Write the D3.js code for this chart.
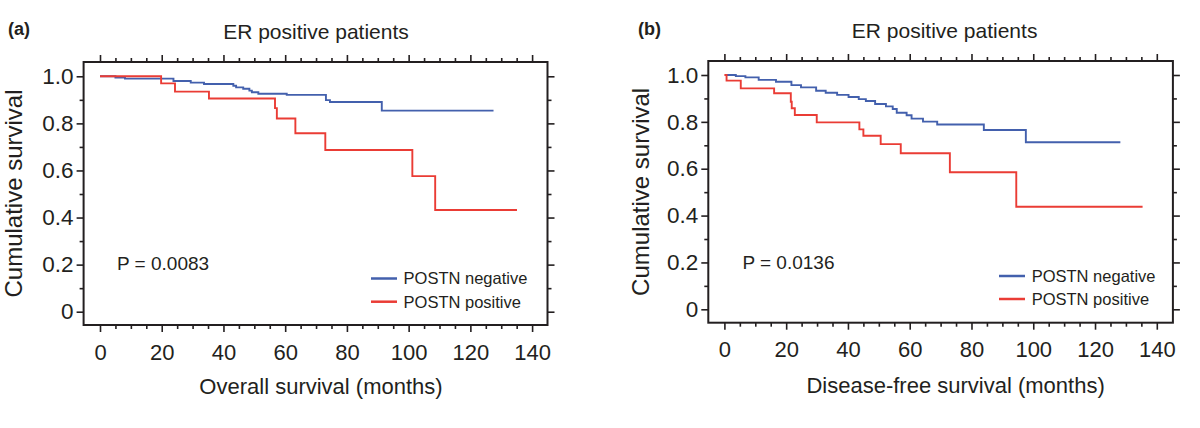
<!DOCTYPE html>
<html><head><meta charset="utf-8">
<script src="https://cdn.jsdelivr.net/npm/d3@7"></script>
<style>
html,body{margin:0;padding:0;background:#fff;}
svg{display:block;font-family:"Liberation Sans",Arial,Helvetica,sans-serif;}
</style></head>
<body>
<svg id="chart" width="1200" height="428"></svg>
<script>
// ---------- data ----------
const panelLabels = ["(a)", "(b)"];
const panelTitles = ["ER positive patients", "ER positive patients"];
const xTitles = ["Overall survival (months)", "Disease-free survival (months)"];
const yTitle = "Cumulative survival";
const pValues = ["P = 0.0083", "P = 0.0136"];
const seriesNames = ["POSTN negative", "POSTN positive"];
const xTicks = [0, 20, 40, 60, 80, 100, 120, 140];
const yTicks = [0, 0.2, 0.4, 0.6, 0.8, 1.0];

// Panel (a): overall survival, Kaplan–Meier steps (time in months, survival)
const aNegTime = [0, 5, 8.1, 23.8, 29.4, 33.7, 43.2, 44.1, 46.4, 48.4, 49.2, 51.3, 60.5, 73.2, 74.5, 91.3, 127.5];
const aNegSurv = [1.0, 0.995, 0.99, 0.98, 0.973, 0.967, 0.96, 0.953, 0.947, 0.939, 0.932, 0.926, 0.921, 0.899, 0.891, 0.854, 0.854];
const aPosTime = [0, 19.8, 24.3, 35.3, 56.7, 57.3, 63.3, 73, 101.2, 108.6, 135.1];
const aPosSurv = [1.0, 0.970, 0.935, 0.906, 0.865, 0.821, 0.758, 0.687, 0.576, 0.432, 0.432];

// Panel (b): disease-free survival
const bNegTime = [0.5, 3.7, 6.8, 11.1, 16.7, 21.7, 24.8, 29.7, 32.8, 36.5, 40.2, 43.5, 45.8, 48.8, 52.3, 54.5, 55.8, 59, 60.6, 64.3, 68.9, 84, 97.6, 128.2];
const bNegSurv = [1.0, 0.995, 0.99, 0.979, 0.971, 0.957, 0.947, 0.933, 0.924, 0.915, 0.906, 0.897, 0.889, 0.876, 0.866, 0.855, 0.839, 0.828, 0.814, 0.801, 0.789, 0.765, 0.713, 0.713];
const bPosTime = [0, 0.7, 5.3, 16.1, 21.5, 21.8, 22.8, 29.9, 43.7, 45, 50.6, 57.1, 73, 94.5, 135.4];
const bPosSurv = [1.0, 0.976, 0.943, 0.922, 0.886, 0.858, 0.829, 0.798, 0.768, 0.741, 0.705, 0.666, 0.585, 0.438, 0.438];

const colors = ["#4360ad", "#ea3c35"];

// ---------- layout ----------
const panels = [
  {frame:{l:83.6, r:547.5, t:62, b:325}, xr:[100, 532.1], yr:[311.7, 76.3],
   label:{x:8, y:35}, title:{x:316, y:39}, xt:{x:321, y:394}, yt:{x:22},
   p:{x:117, y:270}, leg:{x1:371, x2:397, tx:403.6, y:[278.5, 301.7]},
   neg:[aNegTime, aNegSurv], pos:[aPosTime, aPosSurv]},
  {frame:{l:708.3, r:1172.9, t:61, b:322.7}, xr:[724.4, 1156.8], yr:[309.3, 75],
   label:{x:638, y:35}, title:{x:944.6, y:38}, xt:{x:955.6, y:392.7}, yt:{x:649},
   p:{x:742.4, y:269.3}, leg:{x1:999, x2:1025, tx:1031.7, y:[276, 299]},
   neg:[bNegTime, bNegSurv], pos:[bPosTime, bPosSurv]}
];

const svg = d3.select("#chart");
const ink = "#231f20";

panels.forEach((P, i) => {
  const g = svg.append("g");
  const x = d3.scaleLinear().domain([0, 140]).range(P.xr);
  const y = d3.scaleLinear().domain([0, 1]).range(P.yr);
  const f = P.frame;

  // curves
  const line = d3.line().x(d => x(d[0])).y(d => y(d[1])).curve(d3.curveStepAfter);
  [P.neg, P.pos].forEach((s, k) => {
    const pts = s[0].map((t, j) => [t, s[1][j]]);
    g.append("path").attr("d", line(pts)).attr("fill", "none")
      .attr("stroke", colors[k]).attr("stroke-width", 1.9);
  });

  // frame
  g.append("rect").attr("x", f.l).attr("y", f.t).attr("width", f.r - f.l).attr("height", f.b - f.t)
    .attr("fill", "none").attr("stroke", ink).attr("stroke-width", 2);

  const minorX = d3.range(0, 141, 5).filter(v => v % 20 !== 0);
  const minorY = [0.1, 0.3, 0.5, 0.7, 0.9];
  const style = sel => { sel.select(".domain").remove(); sel.selectAll("line").attr("stroke", ink).attr("stroke-width", 1.6); };

  // bottom
  const bx = g.append("g").attr("transform", `translate(0,${f.b})`)
    .call(d3.axisBottom(x).tickValues(xTicks).tickSize(7).tickPadding(12).tickFormat(d3.format("d")));
  style(bx);
  bx.selectAll("text").attr("font-size", 22).attr("fill", ink).attr("font-family", null);
  const bxm = g.append("g").attr("transform", `translate(0,${f.b})`)
    .call(d3.axisBottom(x).tickValues(minorX).tickSize(4).tickFormat(""));
  style(bxm);
  // top
  const tx = g.append("g").attr("transform", `translate(0,${f.t})`)
    .call(d3.axisTop(x).tickValues(xTicks).tickSize(7).tickFormat(""));
  style(tx);
  const txm = g.append("g").attr("transform", `translate(0,${f.t})`)
    .call(d3.axisTop(x).tickValues(minorX).tickSize(4).tickFormat(""));
  style(txm);
  // left
  const ly = g.append("g").attr("transform", `translate(${f.l},0)`)
    .call(d3.axisLeft(y).tickValues(yTicks).tickSize(7).tickPadding(3)
      .tickFormat(d => d === 0 ? "0" : d3.format(".1f")(d)));
  style(ly);
  ly.selectAll("text").attr("font-size", 22.5).attr("fill", ink).attr("font-family", null);
  const lym = g.append("g").attr("transform", `translate(${f.l},0)`)
    .call(d3.axisLeft(y).tickValues(minorY).tickSize(4).tickFormat(""));
  style(lym);
  // right
  const ry = g.append("g").attr("transform", `translate(${f.r},0)`)
    .call(d3.axisRight(y).tickValues(yTicks).tickSize(7).tickFormat(""));
  style(ry);
  const rym = g.append("g").attr("transform", `translate(${f.r},0)`)
    .call(d3.axisRight(y).tickValues(minorY).tickSize(4).tickFormat(""));
  style(rym);

  // texts
  g.append("text").attr("x", P.label.x).attr("y", P.label.y).attr("font-size", 18)
    .attr("font-weight", "bold").attr("fill", ink).text(panelLabels[i]);
  g.append("text").attr("x", P.title.x).attr("y", P.title.y).attr("font-size", 21)
    .attr("text-anchor", "middle").attr("fill", ink).text(panelTitles[i]);
  g.append("text").attr("x", P.xt.x).attr("y", P.xt.y).attr("font-size", 22)
    .attr("text-anchor", "middle").attr("fill", ink).text(xTitles[i]);
  g.append("text").attr("transform", `translate(${P.yt.x},${(f.t + f.b) / 2}) rotate(-90)`)
    .attr("font-size", 24).attr("text-anchor", "middle").attr("fill", ink).text(yTitle);
  g.append("text").attr("x", P.p.x).attr("y", P.p.y).attr("font-size", 19)
    .attr("fill", ink).text(pValues[i]);

  // legend
  seriesNames.forEach((nm, k) => {
    g.append("line").attr("x1", P.leg.x1).attr("x2", P.leg.x2)
      .attr("y1", P.leg.y[k]).attr("y2", P.leg.y[k])
      .attr("stroke", colors[k]).attr("stroke-width", 2.5);
    g.append("text").attr("x", P.leg.tx).attr("y", P.leg.y[k]).attr("dy", "0.36em")
      .attr("font-size", 16.5).attr("fill", ink).text(nm);
  });
});
</script>
</body></html>
